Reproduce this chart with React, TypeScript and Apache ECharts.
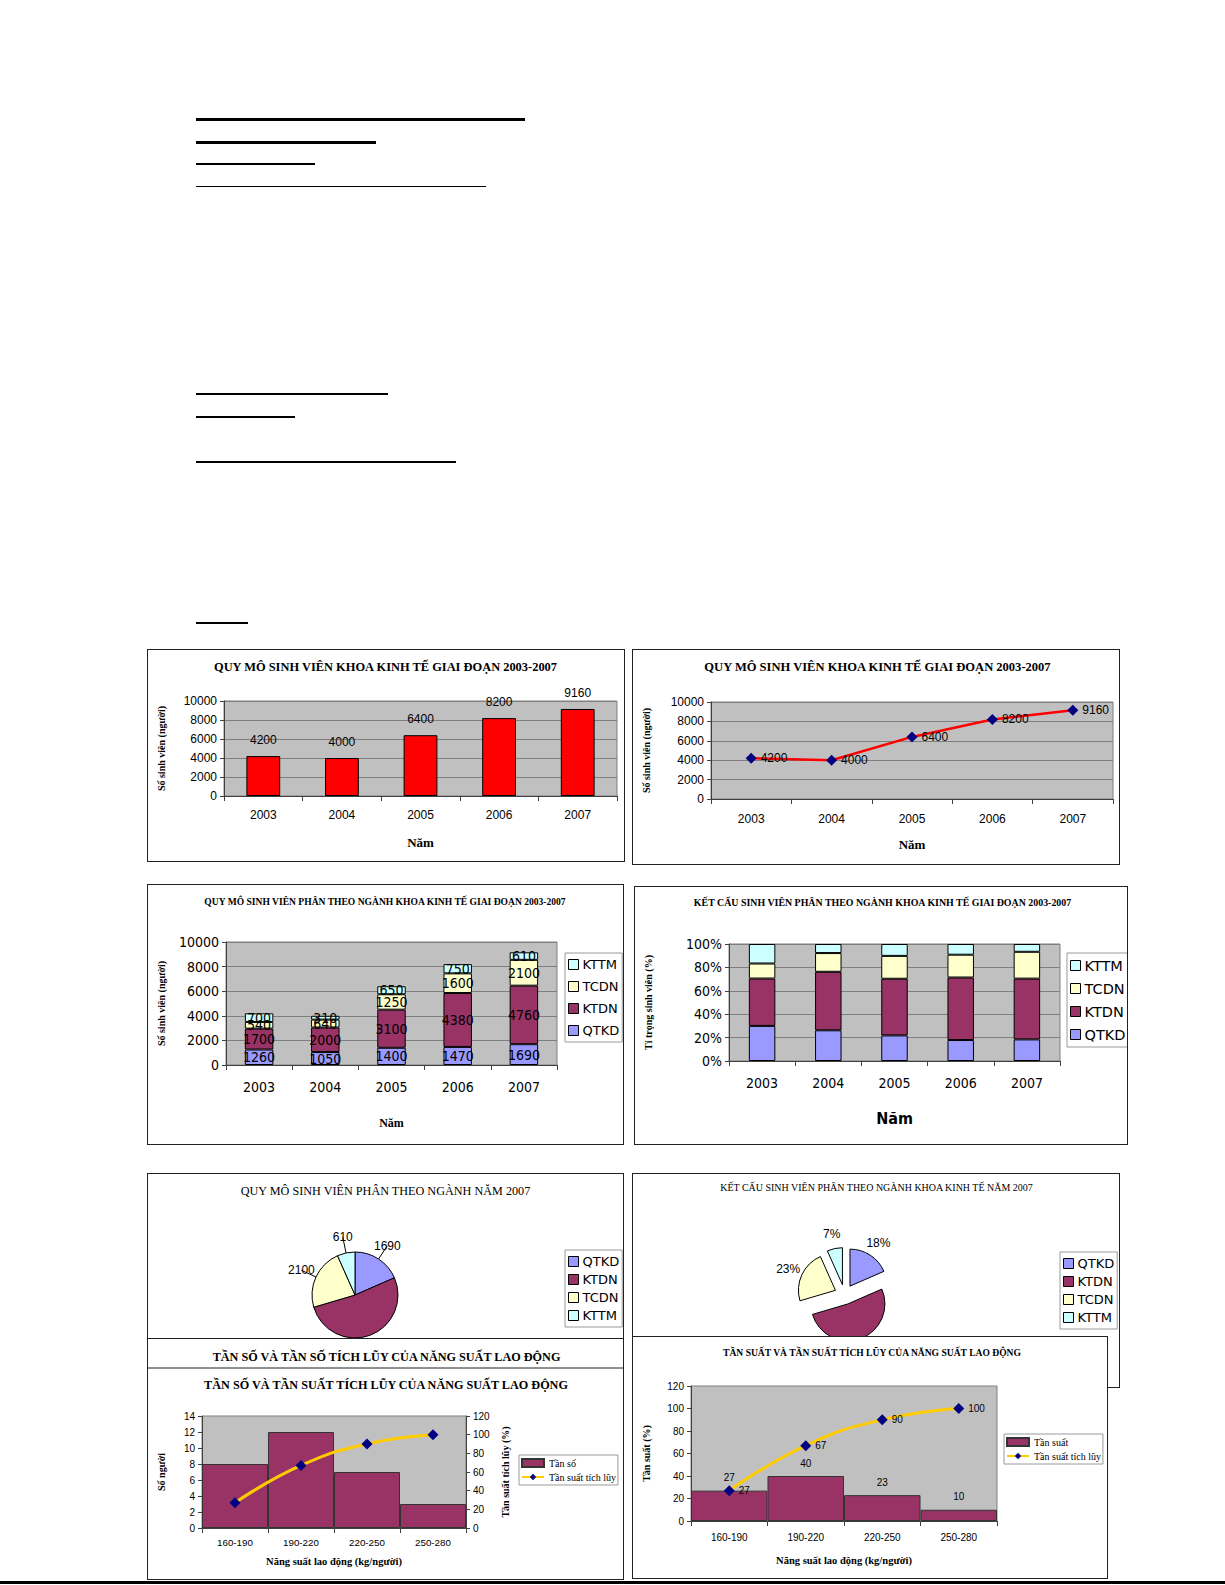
import React, { useEffect, useRef } from 'react';
import * as echarts from 'echarts';

// ---------- DATA ----------
const years = ['2003', '2004', '2005', '2006', '2007'];
const totalStudents = [4200, 4000, 6400, 8200, 9160];
const majorNames = ['QTKD', 'KTDN', 'TCDN', 'KTTM'];
const qtkd = [1260, 1050, 1400, 1470, 1690];
const ktdn = [1700, 2000, 3100, 4380, 4760];
const tcdn = [540, 640, 1250, 1600, 2100];
const kttm = [700, 310, 650, 750, 610];
const majors2007 = [1690, 4760, 2100, 610];
const productivityClasses = ['160-190', '190-220', '220-250', '250-280'];
const frequency = [8, 12, 7, 3];
const relativeFrequency = [27, 40, 23, 10];
const cumulativeFrequency = [27, 67, 90, 100];

// ---------- STYLE ----------
const serif = "'Liberation Serif', 'Times New Roman', serif";
const sans = "'Liberation Sans', Arial, sans-serif";
const narrow = "'Liberation Sans Narrow', 'DejaVu Sans Condensed', 'Liberation Sans', sans-serif";
const dv = "'DejaVu Sans', Verdana, sans-serif";
const majorColors: Record<string, string> = {
  QTKD: '#9999FF',
  KTDN: '#993366',
  TCDN: '#FFFFCC',
  KTTM: '#CCFFFF',
};
const plotBg = '#C0C0C0';
const gridLine = '#808080';
const plain = (v: number) => String(v);

const gText = (text: string, x: number, y: number, size: number, scaleX = 1, weight = 'bold', family = serif) => ({
  type: 'text',
  x,
  y,
  scaleX,
  z: 20,
  style: {
    text,
    fontSize: size,
    fontFamily: family,
    fontWeight: weight,
    fill: '#000',
    align: 'center',
    verticalAlign: 'middle',
    textAlign: 'center',
    textVerticalAlign: 'middle',
  },
});

const gridOf = (left: number, top: number, width: number, height: number) => ({
  left,
  top,
  width,
  height,
  show: true,
  backgroundColor: plotBg,
  borderColor: gridLine,
  borderWidth: 1,
});

const catAxis = (data: string[], font: string, size: number, margin: number, name?: string, nameGap?: number, nameStyle?: any) => ({
  type: 'category',
  data,
  axisLine: { show: true, lineStyle: { color: '#404040', width: 1 } },
  axisTick: { show: true, length: 5, lineStyle: { color: '#404040' } },
  axisLabel: { color: '#000', fontFamily: font, fontSize: size, margin },
  name,
  nameLocation: 'middle',
  nameGap,
  nameTextStyle: nameStyle,
});

const valAxis = (min: number, max: number, interval: number, font: string, size: number, opts: any = {}) => ({
  type: 'value',
  min,
  max,
  interval,
  axisLine: { show: true, lineStyle: { color: '#404040' } },
  axisTick: { show: true, length: 4, lineStyle: { color: '#404040' } },
  axisLabel: { color: '#000', fontFamily: font, fontSize: size, margin: 7, formatter: plain, ...(opts.axisLabel || {}) },
  splitLine: { show: opts.split !== false, lineStyle: { color: gridLine, width: 1 } },
  name: opts.name,
  nameLocation: 'middle',
  nameRotate: 90,
  nameGap: opts.nameGap,
  nameTextStyle: { fontFamily: serif, fontWeight: 'bold', fontSize: 10, color: '#000' },
  position: opts.position,
});

const boxLegend = (left: number, top: number, data: string[], size: number, gap: number, font = dv) => ({
  orient: 'vertical',
  left,
  top,
  data,
  icon: 'rect',
  itemWidth: 10,
  itemHeight: 10,
  itemGap: gap,
  padding: [5, 3, 5, 3],
  borderColor: '#9a9a9a',
  borderWidth: 1,
  backgroundColor: '#fff',
  selectedMode: false,
  itemStyle: { borderColor: '#000', borderWidth: 1 },
  textStyle: { fontFamily: font, fontSize: size, color: '#000', padding: [0, 0, 0, -1] },
});

// ---------- OPTIONS ----------
const opt1 = {
  animation: false,
  graphic: [gText('QUY MÔ SINH VIÊN KHOA KINH TẾ GIAI ĐOẠN 2003-2007', 237.5, 16, 13.5, 0.92)],
  grid: gridOf(72, 51, 397, 95),
  xAxis: catAxis(years, sans, 12, 13, 'Năm', 40, { fontFamily: serif, fontWeight: 'bold', fontSize: 13, color: '#000' }),
  yAxis: valAxis(0, 10000, 2000, sans, 12, { name: 'Số sinh viên (người)', nameGap: 58 }),
  series: [
    {
      type: 'bar',
      data: totalStudents,
      barWidth: '43%',
      itemStyle: { color: '#FF0000', borderColor: '#000', borderWidth: 1 },
      label: { show: true, position: 'top', distance: 10, color: '#000', fontFamily: sans, fontSize: 12 },
    },
  ],
};

const opt2 = {
  animation: false,
  graphic: [gText('QUY MÔ SINH VIÊN KHOA KINH TẾ GIAI ĐOẠN 2003-2007', 244.5, 16, 13.5, 0.93)],
  grid: gridOf(74, 52, 406, 97),
  xAxis: catAxis(years, sans, 12, 14, 'Năm', 39, { fontFamily: serif, fontWeight: 'bold', fontSize: 13, color: '#000' }),
  yAxis: valAxis(0, 10000, 2000, sans, 12, { name: 'Số sinh viên (người)', nameGap: 60 }),
  series: [
    {
      type: 'line',
      data: totalStudents,
      lineStyle: { color: '#FF0000', width: 2.5 },
      symbol: 'diamond',
      symbolSize: 11,
      itemStyle: { color: '#000080' },
      label: { show: true, position: 'right', distance: 4, color: '#000', fontFamily: sans, fontSize: 12 },
    },
  ],
};

const stackSeries = (labels: boolean, pct: boolean, barWidth: string) => {
  const arrs: Record<string, number[]> = { QTKD: qtkd, KTDN: ktdn, TCDN: tcdn, KTTM: kttm };
  return majorNames.map((n) => ({
    type: 'bar',
    name: n,
    stack: 'total',
    barWidth,
    data: pct
      ? arrs[n].map((v, i) => (v / (qtkd[i] + ktdn[i] + tcdn[i] + kttm[i])) * 100)
      : arrs[n],
    itemStyle: { color: majorColors[n], borderColor: '#000', borderWidth: 1 },
    label: labels
      ? { show: true, position: 'inside', color: '#000', fontFamily: narrow, fontSize: 14 }
      : { show: false },
  }));
};

const opt3 = {
  animation: false,
  graphic: [gText('QUY MÔ SINH VIÊN PHÂN THEO NGÀNH KHOA KINH TẾ GIAI ĐOẠN 2003-2007', 237, 16, 11, 0.87)],
  grid: gridOf(73, 57, 336, 123),
  legend: boxLegend(417, 68, ['KTTM', 'TCDN', 'KTDN', 'QTKD'], 13, 9),
  xAxis: catAxis(years, narrow, 14, 15, 'Năm', 52, { fontFamily: serif, fontWeight: 'bold', fontSize: 12, color: '#000' }),
  yAxis: valAxis(0, 10000, 2000, narrow, 14, { name: 'Số sinh viên (người)', nameGap: 60 }),
  series: stackSeries(true, false, '43%'),
};

const opt4 = {
  animation: false,
  graphic: [gText('KẾT CẤU SINH VIÊN PHÂN THEO NGÀNH KHOA KINH TẾ GIAI ĐOẠN 2003-2007', 247.5, 15, 11, 0.9)],
  grid: gridOf(87, 57, 338, 117),
  legend: boxLegend(432, 66, ['KTTM', 'TCDN', 'KTDN', 'QTKD'], 14.5, 8),
  xAxis: catAxis(years, narrow, 14, 15, 'Năm', 49, { fontFamily: narrow, fontWeight: 'bold', fontSize: 16, color: '#000' }),
  yAxis: valAxis(0, 100, 20, narrow, 14, { name: 'Tỉ trọng sinh viên (%)', nameGap: 76, axisLabel: { formatter: '{value}%' } }),
  series: stackSeries(false, true, '40%'),
};

// The KTDN slice's label sits below the panel edge in the reference (covered), so it is not shown.
const pieData = (selected: boolean) =>
  majorNames.map((n, i) => ({
    name: n,
    value: majors2007[i],
    selected,
    itemStyle: { color: majorColors[n] },
    label: n === 'KTDN' ? { show: false } : undefined,
    labelLine: n === 'KTDN' ? { show: false } : undefined,
  }));

const opt5 = {
  animation: false,
  graphic: [gText('QUY MÔ SINH VIÊN PHÂN THEO NGÀNH NĂM 2007', 237.5, 17, 12.2, 1, 'normal')],
  legend: boxLegend(417, 76, majorNames, 13, 5),
  series: [
    {
      type: 'pie',
      center: [207, 121],
      radius: 43,
      startAngle: 90,
      clockwise: true,
      avoidLabelOverlap: false,
      data: pieData(false),
      itemStyle: { borderColor: '#000', borderWidth: 1 },
      label: { show: true, position: 'outside', formatter: '{c}', color: '#000', fontFamily: sans, fontSize: 12, distanceToLabelLine: 0 },
      labelLine: { show: true, length: 16, length2: 0, lineStyle: { color: '#000', width: 1 } },
      labelLayout: { align: 'center', verticalAlign: 'middle' },
      emphasis: { disabled: true },
    },
  ],
};

const opt6 = {
  animation: false,
  graphic: [gText('KẾT CẤU SINH VIÊN PHÂN THEO NGÀNH KHOA KINH TẾ NĂM 2007', 243.5, 13, 10.5, 0.95, 'normal')],
  legend: boxLegend(427, 78, majorNames, 13, 5),
  series: [
    {
      type: 'pie',
      center: [211.5, 120.5],
      radius: 37,
      startAngle: 90,
      clockwise: true,
      avoidLabelOverlap: false,
      selectedMode: 'multiple',
      selectedOffset: 10,
      percentPrecision: 0,
      data: pieData(true),
      itemStyle: { borderColor: '#000', borderWidth: 1 },
      select: { itemStyle: { borderColor: '#000', borderWidth: 1 } },
      label: { show: true, position: 'outside', formatter: '{d}%', color: '#000', fontFamily: sans, fontSize: 12, distanceToLabelLine: 0 },
      labelLine: { show: false, length: 15, length2: 0 },
      labelLayout: { align: 'center', verticalAlign: 'middle' },
      emphasis: { disabled: true },
    },
  ],
};

const histLegend = (left: number, top: number, barName: string) => ({
  orient: 'vertical',
  left,
  top,
  data: [{ name: barName, icon: 'rect' }, { name: 'Tần suất tích lũy' }],
  itemWidth: 22,
  itemHeight: 8,
  itemGap: 4,
  padding: [3, 2, 3, 2],
  borderColor: '#9a9a9a',
  borderWidth: 1,
  selectedMode: false,
  textStyle: { fontFamily: serif, fontSize: 10, color: '#000' },
});

const lineSeries = (labels: boolean) => ({
  type: 'line',
  name: 'Tần suất tích lũy',
  yAxisIndex: labels ? 0 : 1,
  data: cumulativeFrequency,
  smooth: true,
  lineStyle: { color: '#FFCC00', width: 3 },
  symbol: 'diamond',
  symbolSize: 11,
  itemStyle: { color: '#000080' },
  label: labels ? { show: true, position: 'right', distance: 4, color: '#000', fontFamily: sans, fontSize: 10 } : { show: false },
  z: 5,
});

const opt7 = {
  animation: false,
  graphic: [
    gText('TẦN SỐ VÀ TẦN SỐ TÍCH LŨY CỦA NĂNG SUẤT LAO ĐỘNG', 238.5, 18, 12.2),
    { type: 'line', shape: { x1: 0, y1: 29, x2: 480, y2: 29 }, style: { stroke: '#222', lineWidth: 1 } },
    gText('TẦN SỐ VÀ TẦN SUẤT TÍCH LŨY CỦA NĂNG SUẤT LAO ĐỘNG', 238, 46, 12.2),
  ],
  grid: gridOf(45, 77, 273, 112),
  legend: histLegend(371, 116, 'Tần số'),
  xAxis: catAxis(productivityClasses, sans, 9.8, 9, 'Năng suất lao động (kg/người)', 28, {
    fontFamily: serif,
    fontWeight: 'bold',
    fontSize: 10.5,
    color: '#000',
  }),
  yAxis: [
    valAxis(0, 14, 2, sans, 10, { split: false, name: 'Số người', nameGap: 36, position: 'left' }),
    valAxis(0, 120, 20, sans, 10, { split: false, name: 'Tần suất tích lũy (%)', nameGap: 28, position: 'right' }),
  ],
  series: [
    {
      type: 'bar',
      name: 'Tần số',
      data: frequency,
      barCategoryGap: '0%',
      itemStyle: { color: '#993366', borderColor: '#333', borderWidth: 1 },
    },
    lineSeries(false),
  ],
};

const opt8 = {
  animation: false,
  graphic: [gText('TẦN SUẤT VÀ TẦN SUẤT TÍCH LŨY CỦA NĂNG SUẤT LAO ĐỘNG', 239, 15, 11, 0.87)],
  grid: gridOf(52, 49, 312, 135),
  legend: histLegend(371, 97, 'Tần suất'),
  xAxis: catAxis(productivityClasses, sans, 10, 11, 'Năng suất lao động (kg/người)', 34, {
    fontFamily: serif,
    fontWeight: 'bold',
    fontSize: 10.5,
    color: '#000',
  }),
  yAxis: valAxis(0, 120, 20, sans, 10, { split: false, name: 'Tần suất (%)', nameGap: 40 }),
  series: [
    {
      type: 'bar',
      name: 'Tần suất',
      data: relativeFrequency,
      barCategoryGap: '0%',
      itemStyle: { color: '#993366', borderColor: '#333', borderWidth: 1 },
      label: { show: true, position: 'top', distance: 8, color: '#000', fontFamily: sans, fontSize: 10 },
    },
    lineSeries(true),
  ],
};

// ---------- COMPONENTS ----------
type Box = { l: number; t: number; w: number; h: number };

function Panel({ box, option, z = 1 }: { box: Box; option: any; z?: number }) {
  const ref = useRef<HTMLDivElement>(null);
  useEffect(() => {
    if (!ref.current) return;
    const chart = echarts.init(ref.current, null, { renderer: 'svg' });
    chart.setOption(option);
    return () => chart.dispose();
  }, [option]);
  return (
    <div
      style={{
        position: 'absolute',
        left: box.l,
        top: box.t,
        width: box.w,
        height: box.h,
        boxSizing: 'border-box',
        border: '1px solid #222',
        background: '#fff',
        zIndex: z,
        overflow: 'hidden',
      }}
    >
      <div ref={ref} style={{ width: box.w - 2, height: box.h - 2 }} />
    </div>
  );
}

const rules = [
  { x: 196, y: 118, w: 329, h: 2.5 },
  { x: 196, y: 141, w: 180, h: 2.5 },
  { x: 196, y: 163, w: 119, h: 1.6 },
  { x: 196, y: 186, w: 290, h: 1.4 },
  { x: 196, y: 393, w: 192, h: 1.5 },
  { x: 196, y: 416, w: 99, h: 1.5 },
  { x: 196, y: 461, w: 260, h: 1.5 },
  { x: 196, y: 622, w: 52, h: 2.4 },
];

export default function App() {
  return (
    <div style={{ position: 'absolute', left: 0, top: 0, width: 1225, height: 1585, background: '#fff', overflow: 'hidden' }}>
      {rules.map((r, i) => (
        <div key={i} style={{ position: 'absolute', left: r.x, top: r.y, width: r.w, height: r.h, background: '#000' }} />
      ))}
      <Panel box={{ l: 147, t: 649, w: 478, h: 213 }} option={opt1} />
      <Panel box={{ l: 632, t: 649, w: 488, h: 216 }} option={opt2} />
      <Panel box={{ l: 147, t: 884, w: 477, h: 261 }} option={opt3} />
      <Panel box={{ l: 634, t: 886, w: 494, h: 259 }} option={opt4} />
      <Panel box={{ l: 147, t: 1173, w: 477, h: 215 }} option={opt5} />
      <Panel box={{ l: 632, t: 1173, w: 488, h: 215 }} option={opt6} />
      <Panel box={{ l: 147, t: 1338, w: 477, h: 242 }} option={opt7} z={2} />
      <Panel box={{ l: 632, t: 1336, w: 476, h: 243 }} option={opt8} z={2} />
      <div style={{ position: 'absolute', left: 0, top: 1581, width: 1225, height: 3, background: '#000', zIndex: 3 }} />
    </div>
  );
}
